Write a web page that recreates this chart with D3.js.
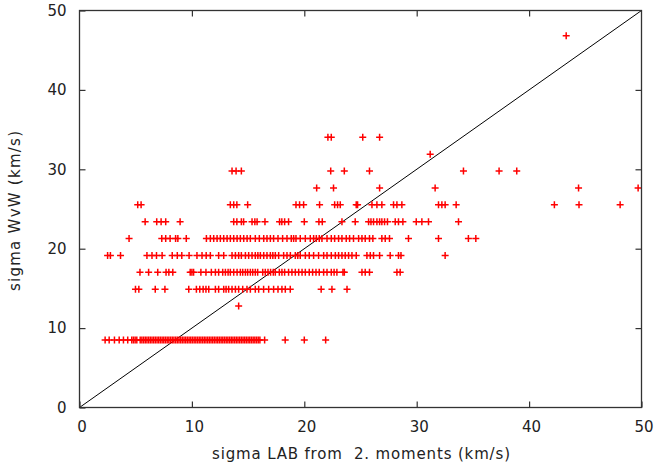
<!DOCTYPE html>
<html>
<head>
<meta charset="utf-8">
<script src="https://cdn.jsdelivr.net/npm/d3@7"></script>
<style>
  html, body { margin: 0; padding: 0; background: #fff; }
  svg { display: block; }
  text { font-family: "DejaVu Sans", "Liberation Sans", Arial, sans-serif; fill: #222; white-space: pre; }
</style>
</head>
<body>
<svg id="chart" width="655" height="469"></svg>
<script>
// ---- data (x values of the points, grouped by the discrete y level they sit on) ----
const yLevels = [8.51, 12.77, 14.89, 17.02, 19.15, 21.28, 23.40, 25.53, 27.66, 29.79, 31.91, 34.04, 46.81];

const xAt8_51 = [2.28, 2.64, 3.11, 3.53, 3.91, 4.29, 4.65, 4.8, 4.95, 5.1,
  5.40, 5.55, 5.70, 5.85, 6.00, 6.15, 6.30, 6.45, 6.60, 6.75, 6.90, 7.05, 7.20, 7.35, 7.50, 7.65,
  7.80, 7.95, 8.10, 8.25, 8.40, 8.55, 8.70, 8.85, 9.00, 9.15, 9.30, 9.45, 9.60, 9.75, 9.90,
  10.05, 10.20, 10.35, 10.50, 10.65, 10.80, 10.95, 11.10, 11.25, 11.40, 11.55, 11.70, 11.85,
  12.00, 12.15, 12.30, 12.45, 12.60, 12.75, 12.90, 13.05, 13.20, 13.35, 13.50, 13.65, 13.80,
  13.95, 14.10, 14.25, 14.40, 14.55, 14.70, 14.85, 15.00, 15.15, 15.30, 15.45, 15.60, 15.75,
  15.90, 16.05, 16.47, 18.3, 20.0, 21.9];
const xAt12_77 = [14.16];
const xAt14_89 = [4.98, 5.28, 6.74, 7.6, 9.72, 10.4, 10.7, 11.0, 11.25, 11.5, 12.09, 12.38, 12.83,
  13.04, 13.27, 13.57, 13.87, 14.16, 14.52, 14.9, 15.2, 15.64, 15.94, 16.38, 16.83, 17.27, 17.66,
  18.01, 18.31, 18.75, 21.5, 22.46, 23.8];
const xAt17_02 = [5.38, 6.15, 6.96, 7.7, 7.95, 8.3, 9.85, 10.0, 10.15, 10.8, 11.25, 11.73, 12.09,
  12.38, 12.74, 12.98, 13.22, 13.42, 13.72, 14.02, 14.31, 14.52, 14.76, 14.96, 15.2, 15.41, 15.64,
  15.85, 16.3, 16.53, 16.77, 17.0, 17.24, 17.42, 17.78, 18.01, 18.25, 18.6, 18.9, 19.2, 19.5, 19.8,
  20.09, 20.44, 20.74, 21.04, 21.33, 21.72, 22.02, 22.4, 22.65, 22.9, 23.44, 23.56, 25.13, 25.42,
  25.8, 28.24, 28.53];
const xAt19_15 = [2.5, 2.75, 3.65, 6.0, 6.45, 6.85, 7.35, 8.25, 8.7, 9.1, 9.75, 10.45, 10.9, 11.27,
  11.64, 12.38, 12.83, 13.57, 13.87, 14.16, 14.4, 14.76, 15.05, 15.35, 15.64, 15.87, 16.09, 16.39,
  16.68, 16.98, 17.2, 17.42, 17.72, 18.16, 18.46, 18.76, 19.2, 19.42, 19.64, 20.09, 20.44, 20.83,
  21.27, 21.72, 22.02, 22.4, 22.76, 23.05, 23.35, 23.64, 23.94, 24.24, 24.62, 25.57, 25.87, 26.16,
  26.7, 27.64, 28.38, 28.6, 32.53];
const xAt21_28 = [4.41, 7.32, 7.67, 8.06, 8.55, 8.75, 9.5, 11.29, 11.64, 11.94, 12.24, 12.53, 12.83,
  13.13, 13.42, 13.72, 14.02, 14.31, 14.61, 14.91, 15.2, 15.64, 16.0, 16.39, 16.68, 16.98, 17.27,
  17.66, 18.07, 18.46, 18.84, 19.05, 19.26, 19.64, 20.09, 20.53, 20.83, 21.07, 21.33, 21.57, 22.02,
  22.4, 22.7, 23.05, 23.35, 23.73, 24.03, 24.38, 24.83, 25.13, 25.42, 25.8, 26.1, 26.9, 27.2, 27.58,
  29.27, 31.94, 34.6, 35.26];
const xAt23_40 = [5.84, 6.87, 7.26, 7.67, 8.95, 13.72, 14.0, 14.4, 14.6, 15.35, 15.6, 15.8, 16.5,
  17.8, 18.0, 18.25, 18.6, 20.0, 21.3, 21.6, 23.35, 24.53, 25.72, 25.93, 26.16, 26.46, 26.7, 26.9,
  27.14, 27.4, 28.09, 28.38, 28.77, 29.96, 30.46, 31.05, 33.72];
const xAt25_53 = [5.18, 5.48, 13.42, 13.72, 14.0, 14.96, 19.26, 19.58, 19.94, 21.36, 22.7, 22.96,
  23.2, 24.62, 24.74, 26.02, 26.46, 26.9, 27.94, 28.24, 28.68, 31.94, 32.24, 32.53, 33.51, 42.25,
  44.44, 48.1];
const xAt27_66 = [21.1, 22.6, 26.7, 31.64, 44.4, 49.7];
const xAt29_79 = [13.57, 13.93, 14.4, 22.35, 23.56, 25.8, 34.16, 37.33, 38.9];
const xAt31_91 = [31.2];
const xAt34_04 = [22.1, 22.4, 25.2, 26.7];
const xAt46_81 = [43.3];

const xTicks = [0, 10, 20, 30, 40, 50];
const yTicks = [0, 10, 20, 30, 40, 50];
const diagonal = [[0, 0], [50, 50]];
const xTitle = "sigma LAB from  2. moments (km/s)";
const yTitle = "sigma WvW (km/s)";

const rows = [xAt8_51, xAt12_77, xAt14_89, xAt17_02, xAt19_15, xAt21_28, xAt23_40,
              xAt25_53, xAt27_66, xAt29_79, xAt31_91, xAt34_04, xAt46_81];
const points = [];
rows.forEach((xs, i) => xs.forEach(v => points.push({x: v, y: yLevels[i]})));

// ---- layout ----
const L = 79.5, R = 641.5, T = 10.5, B = 407.5;
const svg = d3.select("#chart");
const xs = d3.scaleLinear().domain([0, 50]).range([L, R]);
const ys = d3.scaleLinear().domain([0, 50]).range([B, T]);
const tickLen = 6;
const axisColor = "#333";
const fontFam = '"DejaVu Sans", "Liberation Sans", Arial, sans-serif';

// diagonal
svg.append("path")
  .attr("d", d3.line().x(d => xs(d[0])).y(d => ys(d[1]))(diagonal))
  .attr("stroke", "#000").attr("stroke-width", 1).attr("fill", "none");

// points as "+" markers
const arm = 3.5;
const g = svg.append("g").attr("stroke", "#ff0000").attr("stroke-width", 1.5).attr("fill", "none");
g.selectAll("path.pt").data(points).join("path")
  .attr("class", "pt")
  .attr("d", d => {
    const cx = xs(d.x), cy = ys(d.y);
    return `M${cx - arm},${cy}H${cx + arm}M${cx},${cy - arm}V${cy + arm}`;
  });

// axes (ticks inward, mirrored)
const fs = 15;
const axBottom = d3.axisBottom(xs).tickValues(xTicks).tickSize(-tickLen).tickPadding(14).tickFormat(d3.format("d"));
const axTop = d3.axisTop(xs).tickValues(xTicks.slice(1, -1)).tickSize(-tickLen).tickFormat("");
const axLeft = d3.axisLeft(ys).tickValues(yTicks).tickSize(-tickLen).tickPadding(13).tickFormat(d3.format("d"));
const axRight = d3.axisRight(ys).tickValues(yTicks.slice(1, -1)).tickSize(-tickLen).tickFormat("");

function styleAxis(sel) {
  sel.select(".domain").remove();
  sel.selectAll(".tick line").attr("stroke", axisColor).attr("stroke-width", 1.2);
  sel.selectAll(".tick text").attr("fill", "#222")
    .style("font-family", fontFam).style("font-size", fs + "px");
}
svg.append("g").attr("transform", `translate(0,${B})`).call(axBottom).call(styleAxis)
  .selectAll(".tick text").attr("dx", 2);
svg.append("g").attr("transform", `translate(0,${T})`).call(axTop).call(styleAxis);
svg.append("g").attr("transform", `translate(${L},0)`).call(axLeft).call(styleAxis);
svg.append("g").attr("transform", `translate(${R},0)`).call(axRight).call(styleAxis);

// frame
svg.append("rect")
  .attr("x", L).attr("y", T).attr("width", R - L).attr("height", B - T)
  .attr("fill", "none").attr("stroke", axisColor).attr("stroke-width", 1.3);

// titles
svg.append("text")
  .attr("x", 361).attr("y", 459)
  .attr("text-anchor", "middle").style("font-size", fs + "px")
  .attr("textLength", 298).attr("lengthAdjust", "spacing")
  .text(xTitle);
svg.append("text")
  .attr("transform", `translate(20,211) rotate(-90)`)
  .attr("text-anchor", "middle").style("font-size", fs + "px")
  .attr("textLength", 160).attr("lengthAdjust", "spacing")
  .text(yTitle);
</script>
</body>
</html>
